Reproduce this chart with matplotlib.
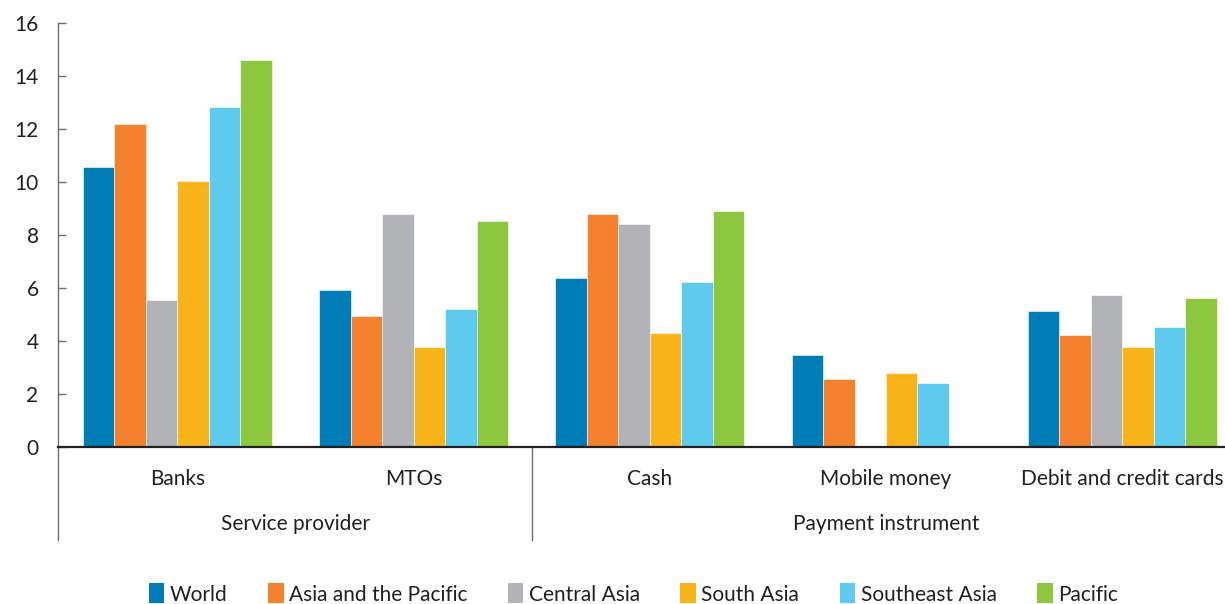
import matplotlib
matplotlib.use("Agg")
import matplotlib.pyplot as plt
import matplotlib.transforms as mtransforms
from matplotlib.patches import Patch
import numpy as np

plt.rcParams['font.family'] = ['Lato', 'DejaVu Sans']

categories = ["Banks", "MTOs", "Cash", "Mobile money", "Debit and credit cards"]
supergroups = ["Service provider", "Payment instrument"]
series_names = ["World", "Asia and the Pacific", "Central Asia", "South Asia",
                "Southeast Asia", "Pacific"]
world = [10.58, 5.94, 6.39, 3.46, 5.15]
asia_pacific = [12.17, 4.93, 8.81, 2.57, 4.24]
central_asia = [5.54, 8.81, 8.40, np.nan, 5.75]
south_asia = [10.05, 3.76, 4.30, 2.78, 3.77]
southeast_asia = [12.83, 5.21, 6.24, 2.43, 4.52]
pacific = [14.60, 8.54, 8.91, np.nan, 5.61]
yticks = [0, 2, 4, 6, 8, 10, 12, 14, 16]

colors = ["#007DB7", "#F3812D", "#B2B3B6", "#F9B419", "#5DCAEE", "#8DC63F"]
series = [world, asia_pacific, central_asia, south_asia, southeast_asia, pacific]

W, H = 1225, 604
fig = plt.figure(figsize=(W / 100, H / 100), dpi=100)
left, right, top, bottom = 58, 1225, 23, 447
ax = fig.add_axes([left / W, 1 - bottom / H, (right - left) / W, (bottom - top) / H])

x = np.arange(len(categories))
bw = 0.1333
for i, (vals, c) in enumerate(zip(series, colors)):
    ax.bar(x + (i - 2.5) * bw, vals, width=bw, color=c, edgecolor='white',
           linewidth=0.4)

ax.set_xlim(-0.505, 4.435)
ax.set_ylim(0, 16)
ax.set_yticks(yticks)
ax.set_yticklabels([str(t) for t in yticks], fontsize=15, color="#231F20")
ax.tick_params(axis='y', direction='in', length=6, width=1, color="#6d6e71", pad=14)
ax.set_xticks([])
for s in ['top', 'right']:
    ax.spines[s].set_visible(False)
ax.spines['left'].set_color("#6d6e71")
ax.spines['left'].set_linewidth(1)
ax.spines['bottom'].set_color("#231F20")
ax.spines['bottom'].set_linewidth(1.6)

# divider lines below axis
ext = -(540 - bottom) / (bottom - top)
ax.axvline(-0.505, ymin=ext, ymax=0, color="#6d6e71", lw=1, clip_on=False)
ax.axvline(1.5, ymin=ext, ymax=0, color="#6d6e71", lw=1, clip_on=False)

trans = mtransforms.blended_transform_factory(ax.transData, fig.transFigure)
for xi, lab in zip(x, categories):
    ax.text(xi, 1 - 479 / H, lab, transform=trans, ha='center', va='center',
            fontsize=15, color="#231F20")
ax.text(0.5, 1 - 524 / H, supergroups[0], transform=trans, ha='center', va='center',
        fontsize=15, color="#231F20")
ax.text(3.0, 1 - 524 / H, supergroups[1], transform=trans, ha='center', va='center',
        fontsize=15, color="#231F20")

handles = [Patch(facecolor=c, edgecolor='none') for c in colors]
fig.legend(handles, series_names, loc='center', bbox_to_anchor=(0.517, 1 - 594 / H),
           ncol=6, frameon=False, fontsize=15, handlelength=0.75, handleheight=1.1,
           handletextpad=0.25, columnspacing=1.95, labelcolor="#231F20")

fig.savefig("out.png", dpi=100)
